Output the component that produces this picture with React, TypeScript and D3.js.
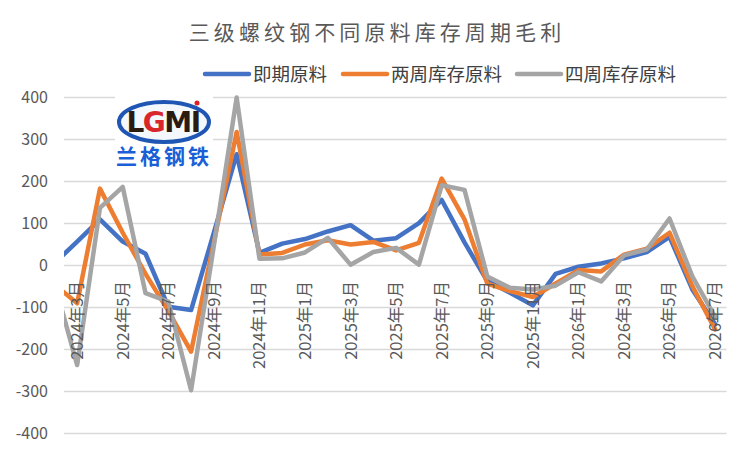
import React, { useEffect, useRef } from "react";
import * as d3 from "d3";

// Months on the category axis
const months = [
  "2024年2月", "2024年3月", "2024年4月", "2024年5月", "2024年6月", "2024年7月",
  "2024年8月", "2024年9月", "2024年10月", "2024年11月", "2024年12月",
  "2025年1月", "2025年2月", "2025年3月", "2025年4月", "2025年5月", "2025年6月",
  "2025年7月", "2025年8月", "2025年9月", "2025年10月", "2025年11月", "2025年12月",
  "2026年1月", "2026年2月", "2026年3月", "2026年4月", "2026年5月", "2026年6月",
  "2026年7月",
];

// Series values (yuan/ton)
const spotMaterial = [
  5, 57, 110, 57, 28, -98, -106, 78, 265, 30, 52, 63, 81, 96, 59, 65, 101,
  156, 55, -37, -65, -95, -20, -3, 5, 17, 32, 68, -57, -140,
];
const twoWeekStock = [
  -45, -90, 183, 78, -20, -108, -205, 55, 318, 26, 30, 50, 60, 50, 56, 36, 54,
  207, 110, -43, -61, -75, -43, -11, -14, 26, 40, 78, -49, -152,
];
const fourWeekStock = [
  -40, -237, 137, 187, -66, -86, -297, 47, 400, 16, 17, 31, 66, 2, 32, 42, 2,
  191, 180, -26, -53, -57, -48, -16, -38, 24, 38, 112, -26, -122,
];

const seriesNames = ["即期原料", "两周库存原料", "四周库存原料"];
const seriesColors = ["#4472C4", "#ED7D31", "#A5A5A5"];
const yTicks = [400, 300, 200, 100, 0, -100, -200, -300, -400];

const FONT = "'Noto Sans CJK SC', 'Noto Sans', sans-serif";

const App: React.FC = () => {
  const svgRef = useRef<SVGSVGElement | null>(null);

  useEffect(() => {
    if (!svgRef.current) return;
    const svg = d3.select(svgRef.current);
    svg.selectAll("*").remove();

    const width = 750;
    const height = 450;
    const plotLeft = 64;
    const plotRight = 726.5;

    svg.attr("width", width).attr("height", height);

    svg.append("rect").attr("width", width).attr("height", height).attr("fill", "#ffffff");

    const x = d3.scaleBand<string>().domain(months).range([43, plotRight]);
    const y = d3.scaleLinear().domain([-400, 400]).range([433.5, 97.5]);
    const cx = (m: string) => (x(m) ?? 0) + x.bandwidth() / 2;

    // Title
    svg
      .append("text")
      .attr("x", 377)
      .attr("y", 40)
      .attr("text-anchor", "middle")
      .attr("font-family", FONT)
      .attr("font-size", 21)
      .attr("letter-spacing", 4.1)
      .attr("fill", "#595959")
      .text("三级螺纹钢不同原料库存周期毛利");

    // Legend
    const legendX = [205, 343, 517];
    seriesNames.forEach((name, i) => {
      const g = svg.append("g").attr("transform", `translate(${legendX[i]}, 74)`);
      g.append("line")
        .attr("x1", 0)
        .attr("x2", 44)
        .attr("stroke", seriesColors[i])
        .attr("stroke-width", 4.5)
        .attr("stroke-linecap", "round");
      g.append("text")
        .attr("x", 48)
        .attr("dy", "0.36em")
        .attr("font-family", FONT)
        .attr("font-size", 18.5)
        .attr("fill", "#404040")
        .text(name);
    });

    // Gridlines
    svg
      .append("g")
      .selectAll("line")
      .data(yTicks)
      .enter()
      .append("line")
      .attr("x1", plotLeft)
      .attr("x2", plotRight)
      .attr("y1", (d) => y(d))
      .attr("y2", (d) => y(d))
      .attr("stroke", "#D9D9D9")
      .attr("stroke-width", 1.5);

    // Y labels
    svg
      .append("g")
      .selectAll("text")
      .data(yTicks)
      .enter()
      .append("text")
      .attr("x", 48)
      .attr("y", (d) => y(d))
      .attr("dy", "0.36em")
      .attr("text-anchor", "end")
      .attr("font-family", FONT)
      .attr("font-size", 16)
      .attr("fill", "#595959")
      .text((d) => d.toString());

    // Logo
    const logo = svg.append("g");
    logo.append("rect").attr("x", 115).attr("y", 92).attr("width", 98).attr("height", 77).attr("fill", "#ffffff");
    logo
      .append("ellipse")
      .attr("cx", 164)
      .attr("cy", 122)
      .attr("rx", 45)
      .attr("ry", 20)
      .attr("fill", "#f4f7fc")
      .attr("stroke", "#1f56b3")
      .attr("stroke-width", 4);
    const lgmi = logo
      .append("text")
      .attr("x", 163)
      .attr("y", 132)
      .attr("text-anchor", "middle")
      .attr("font-family", "'DejaVu Sans', sans-serif")
      .attr("font-weight", "bold")
      .attr("font-size", 28)
      .attr("letter-spacing", -1.5)
      .attr("fill", "#2a1a10");
    lgmi.append("tspan").text("L");
    lgmi.append("tspan").attr("fill", "#d8262b").text("G");
    lgmi.append("tspan").text("MI");
    logo.append("circle").attr("cx", 197).attr("cy", 103).attr("r", 2.5).attr("fill", "#e02020");
    logo
      .append("text")
      .attr("x", 164)
      .attr("y", 164)
      .attr("text-anchor", "middle")
      .attr("font-family", FONT)
      .attr("font-weight", "bold")
      .attr("font-size", 21)
      .attr("letter-spacing", 3)
      .attr("fill", "#1a5fd6")
      .text("兰格钢铁");

    // Lines, clipped to the plot area
    svg
      .append("defs")
      .append("clipPath")
      .attr("id", "plot-clip")
      .append("rect")
      .attr("x", plotLeft)
      .attr("y", 0)
      .attr("width", plotRight - plotLeft)
      .attr("height", height);

    const line = d3
      .line<number>()
      .x((_, i) => cx(months[i]))
      .y((d) => y(d));

    const lineGroup = svg.append("g").attr("clip-path", "url(#plot-clip)");
    [spotMaterial, twoWeekStock, fourWeekStock].forEach((values, i) => {
      lineGroup
        .append("path")
        .datum(values)
        .attr("fill", "none")
        .attr("stroke", seriesColors[i])
        .attr("stroke-width", 4.5)
        .attr("stroke-linejoin", "round")
        .attr("stroke-linecap", "round")
        .attr("d", line);
    });

    // X labels every other month
    const labelTop = 281;
    svg
      .append("g")
      .selectAll("text")
      .data(months.filter((_, i) => i % 2 === 1))
      .enter()
      .append("text")
      .attr("x", (d) => cx(d))
      .attr("y", labelTop)
      .attr("dy", "0.36em")
      .attr("text-anchor", "end")
      .attr("transform", (d) => `rotate(-90, ${cx(d)}, ${labelTop})`)
      .attr("font-family", FONT)
      .attr("font-size", 16.5)
      .attr("fill", "#595959")
      .text((d) => d);
  }, []);

  return (
    <div style={{ position: "absolute", left: 0, top: 0, width: 750, height: 450 }}>
      <svg ref={svgRef} width={750} height={450} style={{ display: "block" }} />
    </div>
  );
};

export default App;
